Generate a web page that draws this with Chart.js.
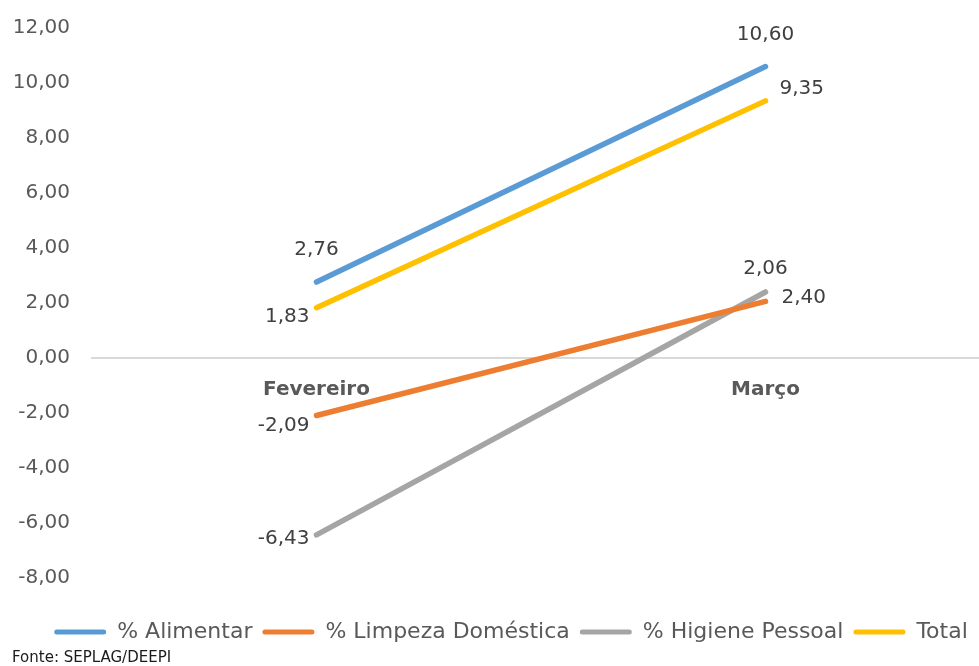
<!DOCTYPE html>
<html lang="pt-BR">
<head>
<meta charset="utf-8">
<title>Variação por grupo</title>
<script src="https://cdn.jsdelivr.net/npm/chart.js@4.4.1/dist/chart.umd.min.js"></script>
<style>
  html, body { margin: 0; padding: 0; background: #fff; overflow: hidden; }
  .wrap { position: relative; width: 990px; height: 666px; }
  .fonte { position: absolute; left: 12px; top: 648px; font: 15px "DejaVu Sans", sans-serif; color: #1a1a1a; }
</style>
</head>
<body>
<div class="wrap">
  <canvas id="grafico" width="990" height="666"></canvas>
  <div class="fonte">Fonte: SEPLAG/DEEPI</div>
</div>
<script>
const meses = ["Fevereiro", "Março"];
const series = ["% Alimentar", "% Limpeza Doméstica", "% Higiene Pessoal", "Total"];
const alimentar = [2.76, 10.60];
const limpeza = [-2.09, 2.06];
const higiene = [-6.43, 2.40];
const total = [1.83, 9.35];
const yMin = -8, yMax = 12, yStep = 2;

const cores = ["#5b9bd5", "#ed7d31", "#a5a5a5", "#ffc000"];
const FONT = "'DejaVu Sans', sans-serif";

// where each value label sits relative to its point: [dx, dy, align]
const posicoes = [
  [[0, -32, "center"], [0, -32, "center"]],
  [[-7, 10, "right"], [0, -33, "center"]],
  [[-7, 4, "right"], [16, 6, "left"]],
  [[-7, 9, "right"], [14, -12, "left"]]
];

const fmt = v => v.toFixed(2).replace(".", ",");

const rotulos = {
  id: "rotulos",
  afterDatasetsDraw(chart) {
    const ctx = chart.ctx;
    ctx.save();
    ctx.font = "20px " + FONT;
    ctx.fillStyle = "#404040";
    ctx.textBaseline = "middle";
    chart.data.datasets.forEach((ds, i) => {
      chart.getDatasetMeta(i).data.forEach((pt, j) => {
        const [dx, dy, align] = posicoes[i][j];
        ctx.textAlign = align;
        ctx.fillText(fmt(ds.data[j]), pt.x + dx, pt.y + dy);
      });
    });
    ctx.restore();
  }
};

// nudge the legend row a little to the right
const legendaDesloc = {
  id: "legendaDesloc",
  afterLayout(chart) {
    chart.legend.left += 16;
    chart.legend.right += 16;
  }
};

const valores = [alimentar, limpeza, higiene, total];

new Chart(document.getElementById("grafico"), {
  type: "line",
  data: {
    labels: meses,
    datasets: valores.map((d, i) => ({
      label: series[i],
      data: d,
      borderColor: cores[i],
      backgroundColor: cores[i],
      borderWidth: 5.5,
      borderCapStyle: "round",
      pointRadius: 0,
      tension: 0
    }))
  },
  options: {
    responsive: false,
    animation: false,
    layout: { padding: { left: 0, right: 0, top: 28, bottom: 13 } },
    scales: {
      x: {
        offset: true,
        position: { y: 0 },
        grid: { display: false, drawTicks: false },
        border: { display: true, color: "#d9d9d9", width: 2 },
        ticks: { color: "#595959", font: { family: FONT, size: 20, weight: "bold" }, padding: 20 }
      },
      spacer: {
        type: "category",
        position: "bottom",
        grid: { display: false },
        border: { display: false },
        ticks: { display: false },
        afterFit: s => { s.height = 33; }
      },
      y: {
        min: yMin,
        max: yMax,
        grid: { display: false, drawTicks: false },
        border: { display: false },
        ticks: {
          stepSize: yStep,
          color: "#595959",
          padding: 22,
          font: { family: FONT, size: 20 },
          callback: v => fmt(v)
        },
        afterFit: s => {
          s.width = 92;
          s.paddingTop = 0;
          s.paddingBottom = 0;
        }
      }
    },
    plugins: {
      legend: {
        position: "bottom",
        labels: {
          color: "#595959",
          font: { family: FONT, size: 22 },
          boxWidth: 52,
          boxHeight: 5,
          padding: 10,
          useBorderRadius: true,
          generateLabels: chart => chart.data.datasets.map((ds, i) => ({
            text: ds.label,
            fillStyle: ds.borderColor,
            strokeStyle: ds.borderColor,
            lineWidth: 0,
            fontColor: "#595959",
            borderRadius: 2.5,
            datasetIndex: i
          }))
        }
      },
      tooltip: { enabled: false }
    }
  },
  plugins: [rotulos, legendaDesloc]
});
</script>
</body>
</html>
